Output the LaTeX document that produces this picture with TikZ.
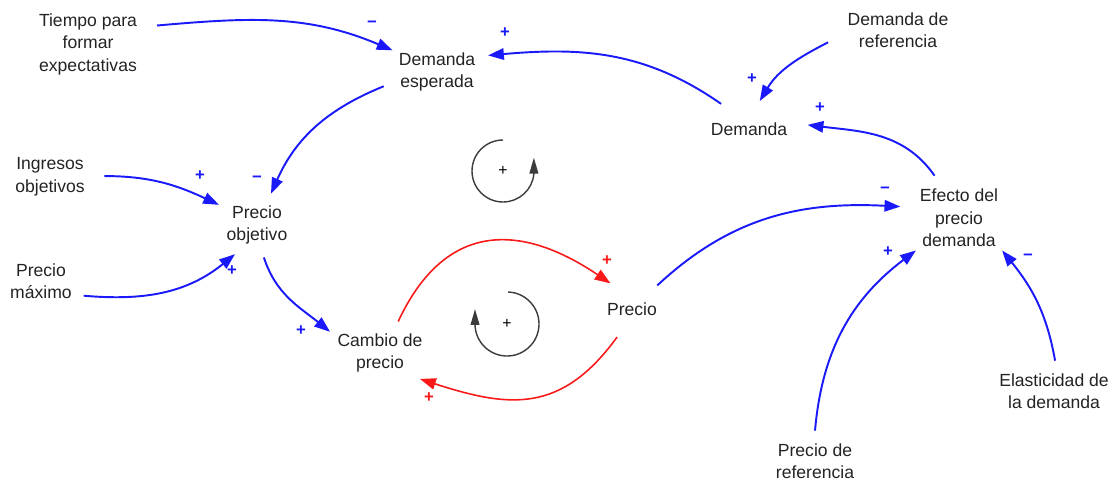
\documentclass[tikz,border=0pt]{standalone}
\usepackage{fontspec}
\setmainfont{Liberation Sans}
\usetikzlibrary{arrows.meta, shapes.geometric}
\definecolor{linkblue}{RGB}{25,25,250}
\definecolor{linkred}{RGB}{250,25,25}
\definecolor{loopgray}{RGB}{60,60,60}
\definecolor{txtgray}{RGB}{35,35,35}

\begin{document}
\begin{tikzpicture}[x=0.02cm, y=0.02cm,
    var/.style={ellipse, inner sep=2pt, align=center, text=txtgray, font=\fontsize{10}{12.8}\selectfont},
    link/.style={linkblue, line width=1.1pt, -{Triangle[length=9pt,width=6.5pt]}},
    redlink/.style={link, linkred, line width=0.9pt},
    sgn/.style={inner sep=0pt, text=linkblue, font=\fontsize{9.5}{9.5}\selectfont\bfseries},
    redsgn/.style={sgn, text=linkred},
    loopsym/.style={loopgray, line width=0.8pt, -{Triangle[length=9pt,width=5pt]}}]
                    \useasboundingbox (0,0) rectangle (1115,485);

                    %variables
                    \node[var] (tiempo) at (88,441) {Tiempo para\\formar\\expectativas};
                    \node[var] (demesp) at (437,413) {Demanda\\esperada};
                    \node[var] (demref) at (898,455) {Demanda de\\referencia};
                    \node[var, minimum height=32pt] (demanda) at (749,356) {Demanda};
                    \node[var] (ingresos) at (50,308) {Ingresos\\objetivos};
                    \node[var] (precobj) at (257,260) {Precio\\objetivo};
                    \node[var] (precmax) at (41,204) {Precio\\máximo};
                    \node[var] (cambio) at (380,132) {Cambio de\\precio};
                    \node[var, minimum height=34pt] (precio) at (632,176) {Precio};
                    \node[var] (efecto) at (959,267) {Efecto del\\precio\\demanda};
                    \node[var] (elast) at (1054,94) {Elasticidad de\\la demanda};
                    \node[var] (precref) at (815,24) {Precio de\\referencia};

                    %links
                    \draw[link] (tiempo.15) to[out=5, in=157] (demesp.154);
                    \draw[link] (demanda.138) to[out=145, in=5] (demesp.18);
                    \draw[link] (demref.190) to[out=207, in=59] (demanda.69);
                    \draw[link] (efecto.120) to[out=125, in=-7] (demanda.4);
                    \draw[link] (demesp.195) to[out=202, in=66] (precobj.66);
                    \draw[link] (ingresos.1) to[out=0, in=155] (precobj.152);
                    \draw[link] (precmax.-19) to[out=-5, in=219] (precobj.233);
                    \draw[link] (precobj.282) to[out=-72, in=141] (cambio.157);
                    \draw[redlink] (cambio.60) to[out=65, in=146, looseness=1.3] (precio.130);
                    \draw[redlink] (precio.242) to[out=234, in=-18, looseness=1.2] (cambio.327);
                    \draw[link] (precio.43) to[out=43, in=177] (efecto.169);
                    \draw[link] (precref.90) to[out=85, in=217] (efecto.217);
                    \draw[link] (elast.88) to[out=100, in=309] (efecto.323);

                    %polarities
                    \node[sgn] (s1) at (372,461) {−};
                    \node[sgn] (s2) at (505,452) {+};
                    \node[sgn] (s3) at (752,406) {+};
                    \node[sgn] (s4) at (820,377) {+};
                    \node[sgn] (s5) at (257,306) {−};
                    \node[sgn] (s6) at (200,309) {+};
                    \node[sgn] (s7) at (232,214) {+};
                    \node[sgn] (s8) at (301,154) {+};
                    \node[redsgn] (s9) at (607,224) {+};
                    \node[redsgn] (s10) at (429,87) {+};
                    \node[sgn] (s11) at (885,295) {−};
                    \node[sgn] (s12) at (888,233) {+};
                    \node[sgn] (s13) at (1028,228) {−};

                    %loops
                    \node[inner sep=0pt, font=\fontsize{9}{9}\selectfont] (loopa) at (503,314) {+};
                    \draw[loopsym] ([shift={(90:31)}]loopa.center) arc[start angle=90, end angle=355, radius=31] -- ++(0,16);
                    \node[inner sep=0pt, font=\fontsize{9}{9}\selectfont] (loopb) at (507,161) {+};
                    \draw[loopsym] ([shift={(88:32)}]loopb.center) arc[start angle=88, end angle=-178, radius=32] -- ++(0,16);

\end{tikzpicture}
\end{document}
